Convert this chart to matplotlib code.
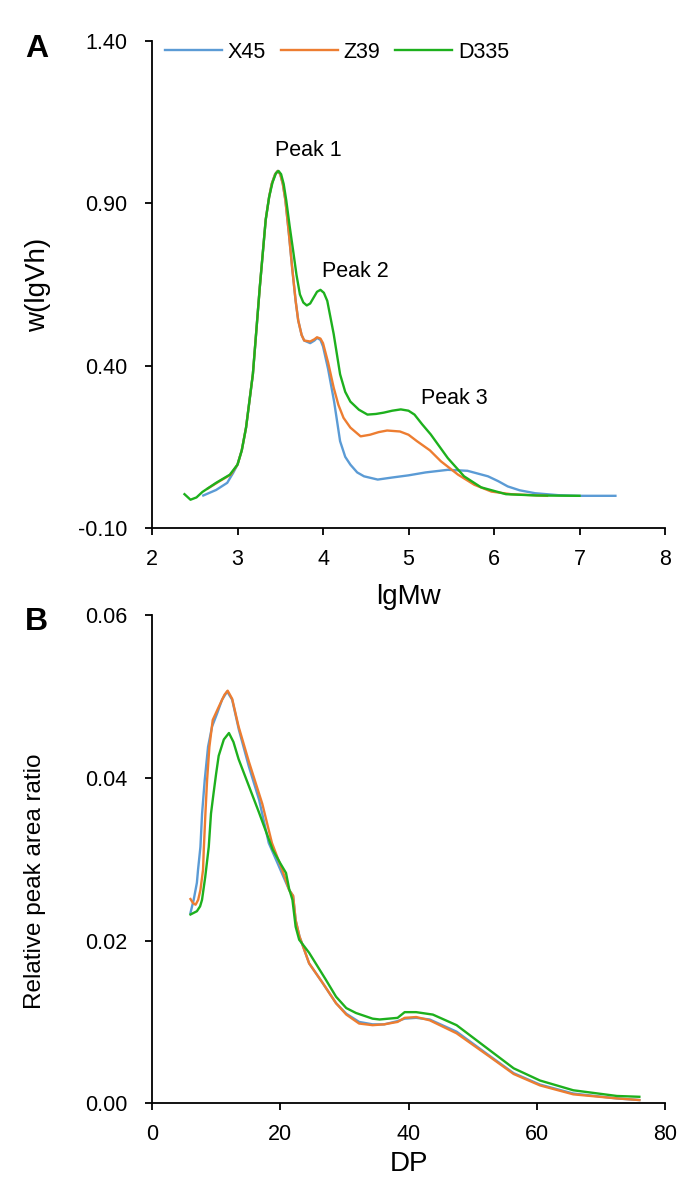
import matplotlib
matplotlib.use('Agg')
import matplotlib.pyplot as plt

plt.rcParams['font.family'] = ['Liberation Sans', 'DejaVu Sans']

# colours of the three samples
BLUE = '#5B9BD5'
ORANGE = '#ED7D31'
GREEN = '#1DB01D'

series_names = ['X45', 'Z39', 'D335']

# --- panel A: molecular weight distribution ---
x45_lgmw = [2.60, 2.75, 2.88, 2.95, 3.00, 3.05, 3.10, 3.18, 3.26, 3.33, 3.37, 3.40, 3.44,
            3.47, 3.50, 3.53, 3.56, 3.60, 3.64, 3.68, 3.71, 3.75, 3.78, 3.85, 3.90, 3.93,
            3.97, 4.00, 4.06, 4.13, 4.20, 4.26, 4.32, 4.40, 4.48, 4.64, 4.80, 5.00, 5.20,
            5.46, 5.69, 5.93, 6.05, 6.16, 6.30, 6.48, 6.75, 7.00, 7.42]
x45_w = [0.001, 0.018, 0.040, 0.071, 0.096, 0.140, 0.210, 0.375, 0.640, 0.850, 0.920, 0.960,
         0.990, 1.000, 0.990, 0.960, 0.910, 0.810, 0.700, 0.600, 0.540, 0.495, 0.478, 0.470,
         0.478, 0.486, 0.480, 0.460, 0.390, 0.290, 0.168, 0.120, 0.096, 0.072, 0.060, 0.050,
         0.056, 0.063, 0.072, 0.080, 0.077, 0.060, 0.045, 0.029, 0.017, 0.008, 0.002, 0.000,
         0.000]

z39_lgmw = [2.65, 2.79, 2.92, 3.00, 3.05, 3.10, 3.18, 3.26, 3.33, 3.37, 3.40, 3.44, 3.47,
            3.50, 3.53, 3.56, 3.60, 3.64, 3.68, 3.71, 3.75, 3.78, 3.85, 3.90, 3.93, 3.97,
            4.00, 4.06, 4.125, 4.18, 4.24, 4.32, 4.44, 4.55, 4.65, 4.75, 4.90, 5.00, 5.10,
            5.25, 5.38, 5.58, 5.77, 5.97, 6.20, 6.62]
z39_w = [0.022, 0.045, 0.065, 0.096, 0.140, 0.210, 0.375, 0.640, 0.850, 0.920, 0.960, 0.990,
         1.000, 0.990, 0.960, 0.910, 0.810, 0.700, 0.600, 0.540, 0.495, 0.478, 0.475, 0.482,
         0.488, 0.484, 0.470, 0.410, 0.333, 0.280, 0.240, 0.210, 0.183, 0.188, 0.196, 0.201,
         0.198, 0.188, 0.168, 0.140, 0.106, 0.065, 0.034, 0.013, 0.005, 0.000]

d335_lgmw = [2.38, 2.45, 2.52, 2.59, 2.75, 2.91, 3.00, 3.05, 3.10, 3.18, 3.26, 3.33, 3.37,
             3.41, 3.45, 3.48, 3.51, 3.54, 3.57, 3.61, 3.65, 3.69, 3.73, 3.77, 3.81, 3.85,
             3.89, 3.93, 3.97, 4.01, 4.05, 4.125, 4.20, 4.26, 4.32, 4.42, 4.52, 4.62, 4.71,
             4.81, 4.91, 5.00, 5.07, 5.16, 5.26, 5.46, 5.65, 5.85, 6.14, 6.50, 7.00]
d335_w = [0.005, -0.012, -0.005, 0.012, 0.040, 0.065, 0.096, 0.140, 0.210, 0.375, 0.640,
          0.850, 0.920, 0.965, 0.993, 1.000, 0.990, 0.960, 0.910, 0.830, 0.756, 0.680, 0.620,
          0.595, 0.586, 0.592, 0.610, 0.628, 0.634, 0.625, 0.600, 0.498, 0.374, 0.320, 0.290,
          0.265, 0.250, 0.252, 0.256, 0.262, 0.266, 0.262, 0.250, 0.220, 0.189, 0.116, 0.060,
          0.026, 0.005, 0.001, 0.000]

peak_labels = ['Peak 1', 'Peak 2', 'Peak 3']
peak_label_x = [3.83, 4.38, 5.54]
peak_label_y = [1.063, 0.69, 0.30]

a_xticks = [2, 3, 4, 5, 6, 7, 8]
a_yticks = [-0.10, 0.40, 0.90, 1.40]
a_yticklabels = ['-0.10', '0.40', '0.90', '1.40']

# --- panel B: chain length distribution ---
x45_dp = [6.0, 6.5, 7.0, 7.18, 7.55, 7.81, 8.22, 8.74, 9.37, 10.15, 10.93, 11.72, 12.5, 13.55,
          15.1, 16.7, 18.2, 19.8, 21.4, 22.0, 22.4, 23.0, 24.5, 26.6, 28.7, 30.3, 32.3, 34.4,
          36.2, 38.3, 39.4, 41.2, 43.3, 47.5, 52.7, 56.4, 60.5, 65.7, 72.5, 76.0]
x45_ratio = [0.0234, 0.0250, 0.0271, 0.0287, 0.0315, 0.0356, 0.0397, 0.0438, 0.0463, 0.0479,
             0.0496, 0.0506, 0.0496, 0.0459, 0.0414, 0.0373, 0.0320, 0.0291, 0.0262, 0.0255,
             0.0225, 0.0205, 0.0172, 0.0148, 0.0123, 0.0110, 0.0100, 0.0097, 0.0097, 0.0101,
             0.0104, 0.0105, 0.0103, 0.0088, 0.0058, 0.0037, 0.0023, 0.0012, 0.0006, 0.0004]

z39_dp = [6.0, 6.4, 6.8, 7.2, 7.55, 7.96, 8.07, 8.33, 8.59, 8.95, 9.47, 10.4, 11.3, 11.8, 12.5,
          13.5, 15.1, 17.2, 18.7, 20.3, 21.4, 22.0, 22.4, 23.0, 24.5, 26.6, 28.7, 30.3, 32.3,
          34.4, 36.2, 38.3, 39.4, 41.2, 43.3, 47.5, 52.7, 56.4, 60.5, 65.7, 72.5, 76.0]
z39_ratio = [0.0251, 0.0246, 0.0244, 0.0250, 0.0262, 0.0287, 0.0311, 0.0356, 0.0397, 0.0438,
             0.0471, 0.0487, 0.0502, 0.0507, 0.0497, 0.0463, 0.0420, 0.0368, 0.0320, 0.0287,
             0.0262, 0.0255, 0.0225, 0.0205, 0.0172, 0.0148, 0.0123, 0.0109, 0.0098, 0.0096,
             0.0097, 0.0100, 0.0105, 0.0106, 0.0102, 0.0086, 0.0057, 0.0036, 0.0022, 0.0011,
             0.0006, 0.0004]

d335_dp = [6.0, 7.0, 7.5, 7.8, 8.3, 8.85, 9.2, 9.6, 10.0, 10.4, 11.2, 12.0, 12.7, 13.5, 15.1,
           16.7, 18.8, 20.0, 20.9, 21.4, 21.9, 22.4, 22.95, 24.5, 27.1, 28.7, 30.3, 31.8, 34.4,
           35.5, 38.3, 39.4, 41.2, 43.8, 47.5, 52.7, 56.4, 60.5, 65.7, 72.5, 76.0]
d335_ratio = [0.0232, 0.0236, 0.0242, 0.0250, 0.0278, 0.0315, 0.0356, 0.0381, 0.0405, 0.0427,
              0.0447, 0.0455, 0.0444, 0.0423, 0.0390, 0.0357, 0.0312, 0.0295, 0.0283, 0.0263,
              0.0250, 0.0217, 0.0201, 0.0185, 0.0152, 0.0131, 0.0117, 0.0111, 0.0104, 0.0103,
              0.0105, 0.0112, 0.0112, 0.0109, 0.0096, 0.0065, 0.0043, 0.0028, 0.0016, 0.0009,
              0.0008]

b_xticks = [0, 20, 40, 60, 80]
b_yticks = [0.00, 0.02, 0.04, 0.06]
b_yticklabels = ['0.00', '0.02', '0.04', '0.06']

W, H = 677, 1182
fig = plt.figure(figsize=(W / 100, H / 100), dpi=100)

left = 152 / W
width = 513 / W
axA = fig.add_axes([left, 1 - 528.3 / H, width, (528.3 - 41) / H])
axB = fig.add_axes([left, 1 - 1103.3 / H, width, (1103.3 - 615) / H])

lw = 1.7
tick_fs = 15.5


def style_axes(ax):
    for side in ['top', 'right']:
        ax.spines[side].set_visible(False)
    for side in ['left', 'bottom']:
        ax.spines[side].set_linewidth(1.3)
    ax.tick_params(direction='out', length=5, width=1.3, labelsize=tick_fs)
    ax.tick_params(axis='x', pad=10)
    ax.tick_params(axis='y', pad=13)


# panel A
axA.plot(x45_lgmw, x45_w, color=BLUE, lw=lw, label=series_names[0])
axA.plot(z39_lgmw, z39_w, color=ORANGE, lw=lw, label=series_names[1])
axA.plot(d335_lgmw, d335_w, color=GREEN, lw=lw, label=series_names[2])
for lab, px, py in zip(peak_labels, peak_label_x, peak_label_y):
    axA.text(px, py, lab, fontsize=tick_fs, ha='center', va='center')
axA.set_xlim(2, 8)
axA.set_ylim(-0.10, 1.40)
axA.set_xticks(a_xticks)
axA.set_yticks(a_yticks)
axA.set_yticklabels(a_yticklabels)
style_axes(axA)
axA.set_xlabel('lgMw', fontsize=20)
axA.xaxis.set_label_coords(0.5, -0.115)
axA.set_ylabel('w(lgVh)', fontsize=20, va='center')
axA.yaxis.set_label_coords(-0.222, 0.5)
axA.legend(loc='center left', bbox_to_anchor=(0.026, 0.977), ncol=3, frameon=False,
           fontsize=tick_fs, handlelength=2.65, handletextpad=0.25, columnspacing=0.7,
           borderpad=0, borderaxespad=0)

# panel B
axB.plot(x45_dp, x45_ratio, color=BLUE, lw=lw)
axB.plot(z39_dp, z39_ratio, color=ORANGE, lw=lw)
axB.plot(d335_dp, d335_ratio, color=GREEN, lw=lw)
axB.set_xlim(0, 80)
axB.set_ylim(0, 0.06)
axB.set_xticks(b_xticks)
axB.set_yticks(b_yticks)
axB.set_yticklabels(b_yticklabels)
style_axes(axB)
axB.set_xlabel('DP', fontsize=20)
axB.xaxis.set_label_coords(0.5, -0.098)
axB.set_ylabel('Relative peak area ratio', fontsize=17.5, va='center')
axB.yaxis.set_label_coords(-0.228, 0.455)

fig.text(25 / W, 1 - 34 / H, 'A', fontsize=23, fontweight='bold', va='top', ha='left')
fig.text(25 / W, 1 - 607 / H, 'B', fontsize=23, fontweight='bold', va='top', ha='left')

fig.savefig('out.png', dpi=100)
